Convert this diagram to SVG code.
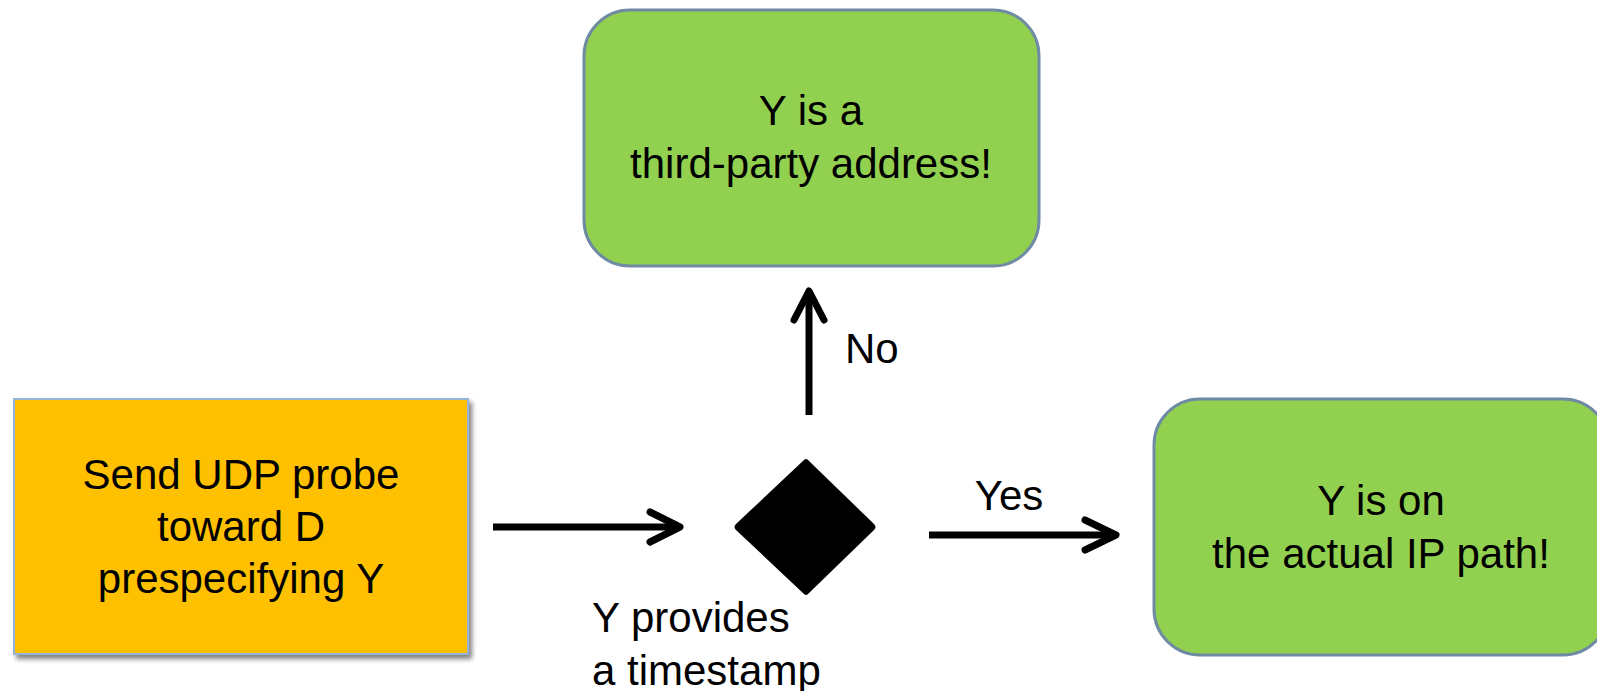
<svg xmlns="http://www.w3.org/2000/svg" width="1597" height="691" viewBox="0 0 1597 691">
  <defs>
    <style>
      .lbl { font-family: "Liberation Sans", Arial, sans-serif; font-size: 42px; fill: #000; }
      .mid { text-anchor: middle; }
      .green { fill: #92D050; stroke: #6F8AA3; stroke-width: 3; }
      .orange { fill: #FFC000; stroke: #95B3D7; stroke-width: 2; }
      .conn { stroke: #000; stroke-width: 7; fill: none; }
      .head { stroke: #000; stroke-width: 7; fill: none; stroke-linecap: round; stroke-linejoin: round; }
    </style>
    <filter id="shadow" x="-10%" y="-10%" width="120%" height="120%">
      <feGaussianBlur in="SourceAlpha" stdDeviation="2.5"/>
      <feOffset dx="3" dy="4" result="b"/>
      <feComponentTransfer><feFuncA type="linear" slope="0.5"/></feComponentTransfer>
      <feMerge><feMergeNode/><feMergeNode in="SourceGraphic"/></feMerge>
    </filter>
  </defs>
  <rect width="1597" height="691" fill="#fff"/>

  <g id="probe">
    <rect class="orange" x="14" y="399" width="454" height="255" filter="url(#shadow)"/>
    <text class="lbl mid" x="241" y="489">Send UDP probe</text>
    <text class="lbl mid" x="241" y="541">toward D</text>
    <text class="lbl mid" x="241" y="593">prespecifying Y</text>
  </g>

  <g id="decision">
    <path d="M804 460 Q806 458 808 460 L874 524 Q877 527 874 530 L808 594 Q806 596 804 594 L736 530 Q733 527 736 524 Z" fill="#000"/>
    <text class="lbl" x="592" y="632">Y provides</text>
    <text class="lbl" x="592" y="685">a timestamp</text>
  </g>

  <g id="third-party">
    <rect class="green" x="584" y="10" width="455" height="256" rx="46" ry="46"/>
    <text class="lbl mid" x="811" y="125">Y is a</text>
    <text class="lbl mid" x="811" y="178">third-party address!</text>
  </g>

  <g id="on-path">
    <rect class="green" x="1154" y="399" width="455" height="256" rx="46" ry="46"/>
    <text class="lbl mid" x="1381" y="515">Y is on</text>
    <text class="lbl mid" x="1381" y="568">the actual IP path!</text>
  </g>

  <g id="connectors">
    <line class="conn" x1="493" y1="527" x2="679" y2="527"/>
    <polyline class="head" points="650,512 680,527 650,542"/>
    <line class="conn" x1="929" y1="535" x2="1115" y2="535"/>
    <polyline class="head" points="1085,520 1116,535 1085,550"/>
    <line class="conn" x1="809" y1="415" x2="809" y2="292"/>
    <polyline class="head" points="794,320 809,291 824,320"/>
    <text class="lbl mid" x="1009" y="510">Yes</text>
    <text class="lbl" x="845" y="363">No</text>
  </g>
</svg>
